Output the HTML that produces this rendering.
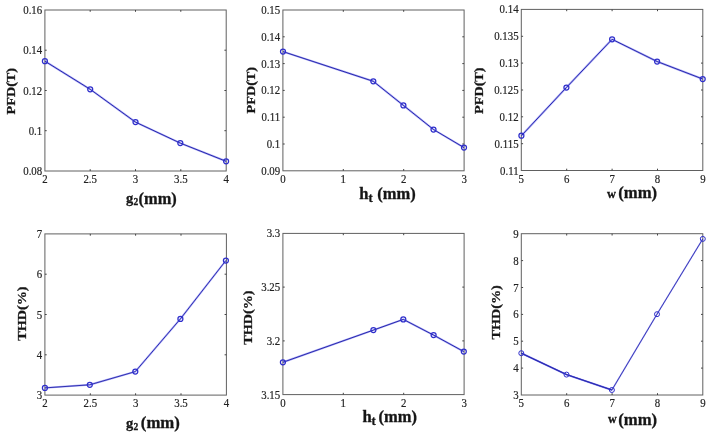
<!DOCTYPE html>
<html><head><meta charset="utf-8"><title>figure</title>
<style>
html,body{margin:0;padding:0;background:#fff;}
body{width:714px;height:442px;overflow:hidden;}
svg{display:block;}
text{font-family:"Liberation Serif","DejaVu Serif",serif;}
.t{font-size:11.8px;fill:#222;stroke:#222;stroke-width:0.18px;}
.l{font-weight:bold;fill:#161616;stroke:#161616;stroke-width:0.3px;}
</style></head><body>
<svg width="714" height="442" viewBox="0 0 714 442">
<rect width="714" height="442" fill="#fff"/>

<g fill="none" stroke="#606060" stroke-width="1">
<rect x="44.9" y="10.0" width="181.3" height="161.0"/>
<path d="M90.2 171.0v-1.8 M90.2 10.0v1.8 M135.5 171.0v-1.8 M135.5 10.0v1.8 M180.8 171.0v-1.8 M180.8 10.0v1.8 M44.9 50.2h1.8 M226.2 50.2h-1.8 M44.9 90.5h1.8 M226.2 90.5h-1.8 M44.9 130.7h1.8 M226.2 130.7h-1.8" stroke="#444"/>
</g>
<g class="t" text-anchor="middle">
<text transform="translate(44.9 183.0) scale(0.92 1)">2</text>
<text transform="translate(90.2 183.0) scale(0.92 1)">2.5</text>
<text transform="translate(135.5 183.0) scale(0.92 1)">3</text>
<text transform="translate(180.8 183.0) scale(0.92 1)">3.5</text>
<text transform="translate(226.2 183.0) scale(0.92 1)">4</text>
</g>
<g class="t" text-anchor="end">
<text transform="translate(42.2 14.0) scale(0.92 1)">0.16</text>
<text transform="translate(42.2 54.2) scale(0.92 1)">0.14</text>
<text transform="translate(42.2 94.5) scale(0.92 1)">0.12</text>
<text transform="translate(42.2 134.7) scale(0.92 1)">0.1</text>
<text transform="translate(42.2 175.0) scale(0.92 1)">0.08</text>
</g>
<g fill="none" stroke-linejoin="round">
<polyline points="44.9,61.2 90.2,89.3 135.5,122.1 180.3,143.1 226.1,161.3" stroke="#6a6aee" stroke-opacity="0.55" stroke-width="2.00"/>
<polyline points="44.9,61.2 90.2,89.3 135.5,122.1 180.3,143.1 226.1,161.3" stroke="#2a2aae" stroke-width="1.00"/>
<circle cx="44.9" cy="61.2" r="2.5" stroke="#2f2fcc" stroke-width="1.25"/>
<circle cx="90.2" cy="89.3" r="2.5" stroke="#2f2fcc" stroke-width="1.25"/>
<circle cx="135.5" cy="122.1" r="2.5" stroke="#2f2fcc" stroke-width="1.25"/>
<circle cx="180.3" cy="143.1" r="2.5" stroke="#2f2fcc" stroke-width="1.25"/>
<circle cx="226.1" cy="161.3" r="2.5" stroke="#2f2fcc" stroke-width="1.25"/>
</g>
<g fill="none" stroke="#606060" stroke-width="1">
<rect x="282.9" y="10.0" width="181.2" height="160.8"/>
<path d="M343.3 170.8v-1.8 M343.3 10.0v1.8 M403.7 170.8v-1.8 M403.7 10.0v1.8 M282.9 36.8h1.8 M464.1 36.8h-1.8 M282.9 63.6h1.8 M464.1 63.6h-1.8 M282.9 90.4h1.8 M464.1 90.4h-1.8 M282.9 117.2h1.8 M464.1 117.2h-1.8 M282.9 144.0h1.8 M464.1 144.0h-1.8" stroke="#444"/>
</g>
<g class="t" text-anchor="middle">
<text transform="translate(282.9 182.8) scale(0.92 1)">0</text>
<text transform="translate(343.3 182.8) scale(0.92 1)">1</text>
<text transform="translate(403.7 182.8) scale(0.92 1)">2</text>
<text transform="translate(464.1 182.8) scale(0.92 1)">3</text>
</g>
<g class="t" text-anchor="end">
<text transform="translate(280.2 14.0) scale(0.92 1)">0.15</text>
<text transform="translate(280.2 40.8) scale(0.92 1)">0.14</text>
<text transform="translate(280.2 67.6) scale(0.92 1)">0.13</text>
<text transform="translate(280.2 94.4) scale(0.92 1)">0.12</text>
<text transform="translate(280.2 121.2) scale(0.92 1)">0.11</text>
<text transform="translate(280.2 148.0) scale(0.92 1)">0.1</text>
<text transform="translate(280.2 174.8) scale(0.92 1)">0.09</text>
</g>
<g fill="none" stroke-linejoin="round">
<polyline points="283.0,51.6 373.3,81.3 403.4,105.4 433.5,129.5 464.0,147.6" stroke="#6a6aee" stroke-opacity="0.55" stroke-width="2.00"/>
<polyline points="283.0,51.6 373.3,81.3 403.4,105.4 433.5,129.5 464.0,147.6" stroke="#2a2aae" stroke-width="1.00"/>
<circle cx="283.0" cy="51.6" r="2.5" stroke="#2f2fcc" stroke-width="1.25"/>
<circle cx="373.3" cy="81.3" r="2.5" stroke="#2f2fcc" stroke-width="1.25"/>
<circle cx="403.4" cy="105.4" r="2.5" stroke="#2f2fcc" stroke-width="1.25"/>
<circle cx="433.5" cy="129.5" r="2.5" stroke="#2f2fcc" stroke-width="1.25"/>
<circle cx="464.0" cy="147.6" r="2.5" stroke="#2f2fcc" stroke-width="1.25"/>
</g>
<g fill="none" stroke="#606060" stroke-width="1">
<rect x="521.3" y="9.4" width="181.5" height="161.1"/>
<path d="M566.7 170.5v-1.8 M566.7 9.4v1.8 M612.1 170.5v-1.8 M612.1 9.4v1.8 M657.5 170.5v-1.8 M657.5 9.4v1.8 M521.3 36.3h1.8 M702.8 36.3h-1.8 M521.3 63.1h1.8 M702.8 63.1h-1.8 M521.3 90.0h1.8 M702.8 90.0h-1.8 M521.3 116.8h1.8 M702.8 116.8h-1.8 M521.3 143.7h1.8 M702.8 143.7h-1.8" stroke="#444"/>
</g>
<g class="t" text-anchor="middle">
<text transform="translate(521.3 182.5) scale(0.92 1)">5</text>
<text transform="translate(566.7 182.5) scale(0.92 1)">6</text>
<text transform="translate(612.1 182.5) scale(0.92 1)">7</text>
<text transform="translate(657.5 182.5) scale(0.92 1)">8</text>
<text transform="translate(703.0 182.5) scale(0.92 1)">9</text>
</g>
<g class="t" text-anchor="end">
<text transform="translate(518.6 13.4) scale(0.92 1)">0.14</text>
<text transform="translate(518.6 40.3) scale(0.92 1)">0.135</text>
<text transform="translate(518.6 67.1) scale(0.92 1)">0.13</text>
<text transform="translate(518.6 94.0) scale(0.92 1)">0.125</text>
<text transform="translate(518.6 120.8) scale(0.92 1)">0.12</text>
<text transform="translate(518.6 147.7) scale(0.92 1)">0.115</text>
<text transform="translate(518.6 174.5) scale(0.92 1)">0.11</text>
</g>
<g fill="none" stroke-linejoin="round">
<polyline points="521.4,135.7 566.4,87.5 612.1,39.3 657.1,61.5 702.7,79.0" stroke="#6a6aee" stroke-opacity="0.55" stroke-width="2.00"/>
<polyline points="521.4,135.7 566.4,87.5 612.1,39.3 657.1,61.5 702.7,79.0" stroke="#2a2aae" stroke-width="1.00"/>
<circle cx="521.4" cy="135.7" r="2.5" stroke="#2f2fcc" stroke-width="1.25"/>
<circle cx="566.4" cy="87.5" r="2.5" stroke="#2f2fcc" stroke-width="1.25"/>
<circle cx="612.1" cy="39.3" r="2.5" stroke="#2f2fcc" stroke-width="1.25"/>
<circle cx="657.1" cy="61.5" r="2.5" stroke="#2f2fcc" stroke-width="1.25"/>
<circle cx="702.7" cy="79.0" r="2.5" stroke="#2f2fcc" stroke-width="1.25"/>
</g>
<g fill="none" stroke="#606060" stroke-width="1">
<rect x="44.9" y="233.9" width="181.5" height="161.2"/>
<path d="M90.3 395.1v-1.8 M90.3 233.9v1.8 M135.6 395.1v-1.8 M135.6 233.9v1.8 M181.0 395.1v-1.8 M181.0 233.9v1.8 M44.9 274.2h1.8 M226.4 274.2h-1.8 M44.9 314.5h1.8 M226.4 314.5h-1.8 M44.9 354.8h1.8 M226.4 354.8h-1.8" stroke="#444"/>
</g>
<g class="t" text-anchor="middle">
<text transform="translate(44.9 407.1) scale(0.92 1)">2</text>
<text transform="translate(90.3 407.1) scale(0.92 1)">2.5</text>
<text transform="translate(135.6 407.1) scale(0.92 1)">3</text>
<text transform="translate(181.0 407.1) scale(0.92 1)">3.5</text>
<text transform="translate(226.4 407.1) scale(0.92 1)">4</text>
</g>
<g class="t" text-anchor="end">
<text transform="translate(42.2 237.9) scale(0.92 1)">7</text>
<text transform="translate(42.2 278.2) scale(0.92 1)">6</text>
<text transform="translate(42.2 318.5) scale(0.92 1)">5</text>
<text transform="translate(42.2 358.8) scale(0.92 1)">4</text>
<text transform="translate(42.2 399.1) scale(0.92 1)">3</text>
</g>
<g fill="none" stroke-linejoin="round">
<polyline points="44.9,387.9 89.8,384.8 135.3,371.6 180.4,318.9 225.9,260.5" stroke="#6a6aee" stroke-opacity="0.55" stroke-width="1.95"/>
<polyline points="44.9,387.9 89.8,384.8 135.3,371.6 180.4,318.9 225.9,260.5" stroke="#2a2aae" stroke-width="0.95"/>
<circle cx="44.9" cy="387.9" r="2.5" stroke="#2f2fcc" stroke-width="1.25"/>
<circle cx="89.8" cy="384.8" r="2.5" stroke="#2f2fcc" stroke-width="1.25"/>
<circle cx="135.3" cy="371.6" r="2.5" stroke="#2f2fcc" stroke-width="1.25"/>
<circle cx="180.4" cy="318.9" r="2.5" stroke="#2f2fcc" stroke-width="1.25"/>
<circle cx="225.9" cy="260.5" r="2.5" stroke="#2f2fcc" stroke-width="1.25"/>
</g>
<g fill="none" stroke="#606060" stroke-width="1">
<rect x="282.9" y="233.4" width="181.2" height="161.2"/>
<path d="M343.3 394.6v-1.8 M343.3 233.4v1.8 M403.7 394.6v-1.8 M403.7 233.4v1.8 M282.9 287.1h1.8 M464.1 287.1h-1.8 M282.9 340.9h1.8 M464.1 340.9h-1.8" stroke="#444"/>
</g>
<g class="t" text-anchor="middle">
<text transform="translate(282.9 406.6) scale(0.92 1)">0</text>
<text transform="translate(343.3 406.6) scale(0.92 1)">1</text>
<text transform="translate(403.7 406.6) scale(0.92 1)">2</text>
<text transform="translate(464.1 406.6) scale(0.92 1)">3</text>
</g>
<g class="t" text-anchor="end">
<text transform="translate(280.2 237.4) scale(0.92 1)">3.3</text>
<text transform="translate(280.2 291.1) scale(0.92 1)">3.25</text>
<text transform="translate(280.2 344.9) scale(0.92 1)">3.2</text>
<text transform="translate(280.2 398.6) scale(0.92 1)">3.15</text>
</g>
<g fill="none" stroke-linejoin="round">
<polyline points="282.9,362.3 373.4,330.1 403.3,319.4 433.6,335.1 463.8,351.6" stroke="#6a6aee" stroke-opacity="0.55" stroke-width="2.00"/>
<polyline points="282.9,362.3 373.4,330.1 403.3,319.4 433.6,335.1 463.8,351.6" stroke="#2a2aae" stroke-width="1.00"/>
<circle cx="282.9" cy="362.3" r="2.5" stroke="#2f2fcc" stroke-width="1.25"/>
<circle cx="373.4" cy="330.1" r="2.5" stroke="#2f2fcc" stroke-width="1.25"/>
<circle cx="403.3" cy="319.4" r="2.5" stroke="#2f2fcc" stroke-width="1.25"/>
<circle cx="433.6" cy="335.1" r="2.5" stroke="#2f2fcc" stroke-width="1.25"/>
<circle cx="463.8" cy="351.6" r="2.5" stroke="#2f2fcc" stroke-width="1.25"/>
</g>
<g fill="none" stroke="#606060" stroke-width="1">
<rect x="521.3" y="233.7" width="181.5" height="161.3"/>
<path d="M566.7 395.0v-1.8 M566.7 233.7v1.8 M612.1 395.0v-1.8 M612.1 233.7v1.8 M657.5 395.0v-1.8 M657.5 233.7v1.8 M521.3 260.6h1.8 M702.8 260.6h-1.8 M521.3 287.5h1.8 M702.8 287.5h-1.8 M521.3 314.4h1.8 M702.8 314.4h-1.8 M521.3 341.2h1.8 M702.8 341.2h-1.8 M521.3 368.1h1.8 M702.8 368.1h-1.8" stroke="#444"/>
</g>
<g class="t" text-anchor="middle">
<text transform="translate(521.3 407.0) scale(0.92 1)">5</text>
<text transform="translate(566.7 407.0) scale(0.92 1)">6</text>
<text transform="translate(612.1 407.0) scale(0.92 1)">7</text>
<text transform="translate(657.5 407.0) scale(0.92 1)">8</text>
<text transform="translate(703.0 407.0) scale(0.92 1)">9</text>
</g>
<g class="t" text-anchor="end">
<text transform="translate(518.6 237.7) scale(0.92 1)">9</text>
<text transform="translate(518.6 264.6) scale(0.92 1)">8</text>
<text transform="translate(518.6 291.5) scale(0.92 1)">7</text>
<text transform="translate(518.6 318.4) scale(0.92 1)">6</text>
<text transform="translate(518.6 345.2) scale(0.92 1)">5</text>
<text transform="translate(518.6 372.1) scale(0.92 1)">4</text>
<text transform="translate(518.6 399.0) scale(0.92 1)">3</text>
</g>
<g fill="none" stroke-linejoin="round">
<polyline points="521.3,353.2 566.5,374.6 611.9,390.0 657.0,314.2 702.8,238.9" stroke="#6a6aee" stroke-opacity="0.55" stroke-width="1.50"/>
<polyline points="521.3,353.2 566.5,374.6 611.9,390.0 657.0,314.2 702.8,238.9" stroke="#2a2aae" stroke-width="0.85"/>
<polyline points="521.3,353.2 566.5,374.6 611.9,390.0" stroke="#6a6aee" stroke-opacity="0.55" stroke-width="2.0"/>
<polyline points="521.3,353.2 566.5,374.6 611.9,390.0" stroke="#2a2aae" stroke-width="1.1"/>
<circle cx="521.3" cy="353.2" r="2.5" stroke="#2f2fcc" stroke-width="1.00"/>
<circle cx="566.5" cy="374.6" r="2.5" stroke="#2f2fcc" stroke-width="1.00"/>
<circle cx="611.9" cy="390.0" r="2.5" stroke="#2f2fcc" stroke-width="1.00"/>
<circle cx="657.0" cy="314.2" r="2.5" stroke="#2f2fcc" stroke-width="1.00"/>
<circle cx="702.8" cy="238.9" r="2.5" stroke="#2f2fcc" stroke-width="1.00"/>
</g>
<text class="l" font-size="14.2" text-anchor="middle" transform="translate(15.2 91.2) rotate(-90) scale(1 0.92)">PFD(T)</text>
<text class="l" font-size="14.2" text-anchor="middle" transform="translate(254.8 90.2) rotate(-90) scale(1 0.92)">PFD(T)</text>
<text class="l" font-size="14.2" text-anchor="middle" transform="translate(483.1 90.7) rotate(-90) scale(1 0.92)">PFD(T)</text>
<text class="l" font-size="14.2" text-anchor="middle" transform="translate(26.3 313.6) rotate(-90) scale(1 0.92)">THD(%)</text>
<text class="l" font-size="14.2" text-anchor="middle" transform="translate(252.1 317.6) rotate(-90) scale(1 0.92)">THD(%)</text>
<text class="l" font-size="14.2" text-anchor="middle" transform="translate(499.7 312.4) rotate(-90) scale(1 0.92)">THD(%)</text>
<text class="l" transform="scale(1.00 1)"><tspan x="126.00" y="202.6" font-size="14.5">g</tspan><tspan x="133.40" y="204.8" font-size="9.5">2</tspan><tspan x="138.60" y="204.3" font-size="16.4">(mm)</tspan></text>
<text class="l" transform="scale(1.00 1)"><tspan x="359.30" y="198.6" font-size="16.6">h</tspan><tspan x="368.40" y="201.7" font-size="12.5">t</tspan><tspan x="373.20" y="198.6" font-size="16.5"> (mm)</tspan></text>
<text class="l" transform="scale(1.00 1)"><tspan x="607.00" y="197.9" font-size="12.4">w</tspan><tspan x="616.00" y="197.9" font-size="8.0"> </tspan><tspan x="618.20" y="197.9" font-size="16.7">(mm)</tspan></text>
<text class="l" transform="scale(1.00 1)"><tspan x="126.00" y="427.9" font-size="14.5">g</tspan><tspan x="133.40" y="430.4" font-size="9.5">2</tspan><tspan x="137.50" y="428.4" font-size="10.0"> </tspan><tspan x="140.80" y="428.4" font-size="16.8">(mm)</tspan></text>
<text class="l" transform="scale(1.00 1)"><tspan x="362.50" y="422.0" font-size="16.6">h</tspan><tspan x="371.60" y="425.0" font-size="12.5">t</tspan><tspan x="376.00" y="422.0" font-size="8.0"> </tspan><tspan x="378.50" y="422.0" font-size="16.5">(mm)</tspan></text>
<text class="l" transform="scale(1.00 1)"><tspan x="608.00" y="423.2" font-size="12.0">w</tspan><tspan x="618.20" y="425.1" font-size="16.7">(mm)</tspan></text>
</svg>
</body></html>
